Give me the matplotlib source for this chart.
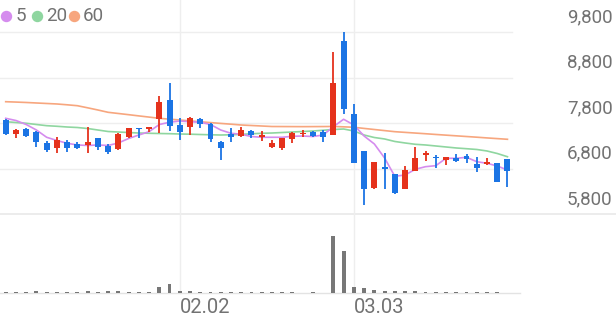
import matplotlib
matplotlib.use("Agg")
import matplotlib.pyplot as plt
from matplotlib.lines import Line2D

# ---------------- data ----------------
opens = [7866, 7565, 7668, 7609, 7354, 7257, 7390, 7346, 7317, 7464,
         7301, 7229, 7499, 7697, 7675, 7888, 8306, 7756, 7719, 7881,
         7771, 7390, 7552, 7521, 7624, 7499, 7279, 7244, 7448, 7558,
         7609, 7600, 7536, 9603, 8006, 7191, 6365, 6822, 6679, 6343,
         6752, 7097, 7053, 6987, 7038, 7082, 6892, 6892, 6914, 7002]
highs = [7880, 7660, 7690, 7620, 7405, 7486, 7426, 7390, 7719, 7478,
         7332, 7580, 7690, 7700, 7700, 8400, 8680, 7903, 7939, 7917,
         7793, 7400, 7684, 7719, 7646, 7624, 7426, 7464, 7609, 7646,
         7617, 7646, 9367, 9794, 8211, 7191, 6950, 7140, 6680, 6862,
         7279, 7185, 7097, 7060, 7112, 7112, 7060, 7024, 6914, 7002]
lows = [7545, 7470, 7490, 7279, 7169, 7134, 7169, 7229, 7147, 7207,
        7112, 7207, 7464, 7464, 7609, 7573, 7624, 7426, 7536, 7684,
        7390, 6987, 7390, 7482, 7464, 7404, 7244, 7207, 7354, 7499,
        7499, 7376, 7536, 7991, 6928, 5998, 6343, 6350, 6233, 6343,
        6752, 6965, 6811, 6877, 6950, 6914, 6730, 6877, 6510, 6400]
closes = [7558, 7646, 7521, 7376, 7207, 7426, 7257, 7257, 7376, 7279,
          7169, 7552, 7684, 7662, 7697, 8255, 7734, 7596, 7903, 7778,
          7448, 7244, 7486, 7646, 7536, 7536, 7368, 7464, 7580, 7587,
          7521, 7482, 8673, 8108, 6928, 6343, 6950, 6800, 6255, 6767,
          7024, 7134, 7024, 7046, 6965, 7002, 6818, 6936, 6510, 6745]
volumes = [65000, 65000, 65000, 115000, 65000, 65000, 65000, 65000, 115000, 65000,
           100000, 135000, 85000, 65000, 85000, 335000, 450000, 135000, 115000, 85000,
           85000, 85000, 65000, 50000, 50000, 50000, 65000, 65000, 65000, 35000,
           50000, 35000, 2850000, 2140000, 340000, 270000, 185000, 100000, 100000, 115000,
           135000, 65000, 65000, 65000, 65000, 50000, 50000, 50000, 85000, 35000]
ma5 = [7903, 7855, 7767, 7646, 7486, 7416, 7354, 7317, 7306, 7317,
       7306, 7361, 7459, 7536, 7609, 7767, 7816, 7844, 7829, 7816,
       7767, 7646, 7574, 7552, 7503, 7486, 7486, 7486, 7508, 7514,
       7503, 7536, 7719, 7882, 7756, 7514, 7339, 7031, 6629, 6657,
       6783, 6840, 6862, 7024, 7024, 7046, 6950, 6914, 6855, 6767]
ma20 = [7829, 7811, 7794, 7767, 7741, 7728, 7712, 7701, 7679, 7646,
        7613, 7602, 7591, 7580, 7574, 7569, 7565, 7558, 7554, 7547,
        7541, 7536, 7541, 7550, 7563, 7574, 7580, 7591, 7602, 7613,
        7624, 7640, 7657, 7668, 7624, 7536, 7481, 7449, 7394, 7361,
        7332, 7317, 7295, 7273, 7251, 7235, 7218, 7185, 7130, 7059]
ma60 = [8268, 8260, 8251, 8240, 8229, 8218, 8200, 8180, 8134, 8086,
        8035, 8009, 7983, 7956, 7930, 7903, 7884, 7866, 7846, 7827,
        7809, 7791, 7774, 7756, 7745, 7734, 7723, 7722, 7721, 7720,
        7721, 7722, 7724, 7716, 7706, 7681, 7657, 7633, 7609, 7594,
        7579, 7564, 7548, 7533, 7518, 7503, 7488, 7472, 7457, 7442]
price_ticks = [5800, 6800, 7800, 8800, 9800]
date_tick_index = [17, 34]
date_tick_labels = ["02.02", "03.03"]
ma_labels = ["5", "20", "60"]

# ---------------- style ----------------
RED = "#e5321c"
BLUE = "#1b74e4"
MA_COLORS = ["#d58cee", "#8fd6a0", "#f7a67e"]
GRID = "#eeeeee"
TXT = "#727272"
VOL = "#777777"

plt.rcParams['font.family'] = ['Roboto', 'DejaVu Sans']

W, H = 616, 321
fig = plt.figure(figsize=(W / 100, H / 100), dpi=100)
fig.patch.set_facecolor("white")

def px_rect(left, top, right, bottom):
    return [left / W, 1 - bottom / H, (right - left) / W, (bottom - top) / H]

X0, STEP = 5.7, 10.24          # pixel position of first candle, spacing
PX_PER_PRICE = 0.0455
ax = fig.add_axes(px_rect(0, 0, W, 214))
axv = fig.add_axes(px_rect(0, 222, W, 293.3))
xlim = (-X0 / STEP, (W - X0) / STEP)
for a in (ax, axv):
    a.set_xlim(*xlim)
    a.set_axis_off()
ax.set_ylim(5800, 5800 + 214 / PX_PER_PRICE)

n = len(closes)
xs = list(range(n))
grid_right = 512 / W

# horizontal grid
for v in price_ticks:
    if v == price_ticks[0]:
        ax.axhline(v, 0, 1, color="#e9e9e9", lw=1.2, zorder=0, clip_on=False)
    else:
        ax.axhline(v, 0, grid_right, color=GRID, lw=1, zorder=0)
    ax.annotate(f"{v:,}", xy=(612.5 / W, v), xycoords=("axes fraction", "data"),
                xytext=(0, 10.8), textcoords="offset points",
                ha="right", va="center", fontsize=13.5, color=TXT)

# vertical grid
span = (293.3) / 214
for i, lab in zip(date_tick_index, date_tick_labels):
    ax.axvline(i, ymin=1 - span, ymax=1, color=GRID, lw=1, zorder=0, clip_on=False)
    axv.annotate(lab, xy=(i, 0), xycoords=("data", "axes fraction"),
                 xytext=(0, -10), textcoords="offset points",
                 ha="left", va="center", fontsize=14.5, color=TXT)

# moving averages
for series, c in zip([ma60, ma20, ma5], MA_COLORS[::-1]):
    ax.plot(xs, series, color=c, lw=1.2, zorder=2, solid_joinstyle="round")

# candles
body_w = 0.58
min_h = 1.6 / PX_PER_PRICE
for i in xs:
    o, h, l, c = opens[i], highs[i], lows[i], closes[i]
    col = RED if c >= o else BLUE
    ax.vlines(i, l, h, color=col, lw=1.3, zorder=3)
    lo, hi = min(o, c), max(o, c)
    if hi - lo < min_h:
        mid = (hi + lo) / 2
        lo, hi = mid - min_h / 2, mid + min_h / 2
    ax.bar(i, hi - lo, bottom=lo, width=body_w, color=col, linewidth=0, zorder=4)

# volume
axv.bar(xs, volumes, width=0.38, color=VOL, linewidth=0, zorder=2)
axv.set_ylim(0, max(volumes) * 71.3 / 57)
axv.axhline(0, 0, 520 / W, color="#e3e3e3", lw=1, zorder=1, clip_on=False)

# legend
leg_x = [5.7, 37.3, 74]
txt_x = [15.5, 46, 83]
for lab, c, cx, tx in zip(ma_labels, MA_COLORS, leg_x, txt_x):
    fig.add_artist(Line2D([cx / W], [1 - 15.7 / H], marker="o", markersize=7.2,
                          color=c, linestyle="none"))
    fig.text(tx / W, 1 - 15.7 / H, lab, ha="left", va="center",
             fontsize=13.5, color=TXT)

fig.savefig("out.png", dpi=100, facecolor="white")
